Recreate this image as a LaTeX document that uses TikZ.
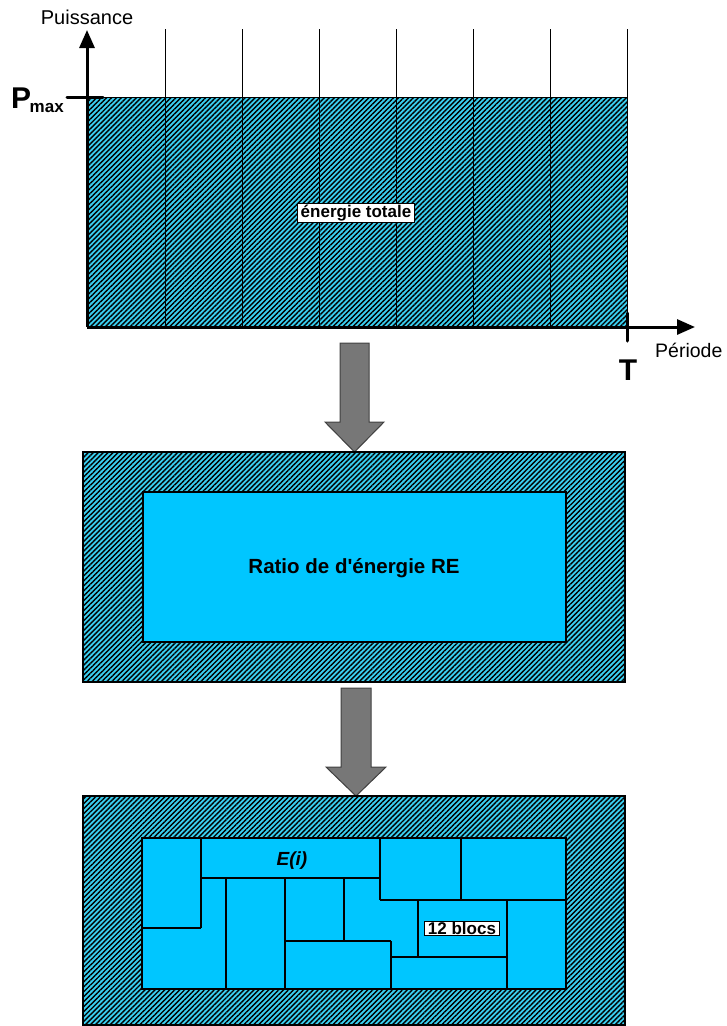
\documentclass[tikz,border=0pt]{standalone}
\usepackage{fontspec}
\setmainfont{Liberation Sans}
\newfontfamily\plainsans{Liberation Sans}[Ligatures=Common]
\usetikzlibrary{patterns.meta,arrows.meta}
\definecolor{hatchcyan}{HTML}{3ACFF0}
\definecolor{boxcyan}{HTML}{00C6FF}
\definecolor{arrowgray}{HTML}{777777}
\definecolor{arrowedge}{HTML}{404040}
\tikzset{
  hatch/.style={fill=hatchcyan,postaction={pattern={Lines[angle=45,distance=3.5pt,line width=1.4pt]},pattern color=black}},
  outerbox/.style={hatch,draw=black,line width=1.5pt},
  innerbox/.style={fill=boxcyan,draw=black,line width=1.5pt},
  blockline/.style={draw=black,line width=1.5pt},
  bigarrow/.style={fill=arrowgray,draw=arrowedge,line width=1pt,line join=miter},
  labelbox/.style={fill=white,draw=black,line width=1pt,inner xsep=3pt,inner ysep=1pt},
  axis/.style={line width=3pt},
  tick/.style={line width=3pt,line cap=round},
}
\begin{document}
\begin{tikzpicture}[x=1pt,y=-1pt]
\useasboundingbox (0,0) rectangle (726,1026);
% ---------- top chart ----------
\path[hatch] (87,97) rectangle (627,327);
\draw[line width=1pt] (87,97) -- (627,97);
\foreach \xx in {165,242,319,396,473,550,627}
  \draw[line width=1pt] (\xx,29) -- (\xx,327);
\coordinate (origin) at (87,327);
\coordinate (ytop) at (87,30);
\coordinate (xend) at (695,327);
\draw[axis,-{Triangle[length=18pt,width=15pt]}] (origin) -- (ytop);
\draw[axis,-{Triangle[length=18pt,width=15pt]}] (origin) -- (xend);
\coordinate (pmaxa) at (67,97);
\coordinate (pmaxb) at (103,97);
\draw[tick] (pmaxa) -- (pmaxb);
\coordinate (ta) at (627,313);
\coordinate (tb) at (627,341);
\draw[tick] (ta) -- (tb);
\node[anchor=base,inner sep=0pt,font=\fontsize{20}{23}\selectfont] (puis) at (87,24) {Puissance};
\node[anchor=base west,inner sep=0pt,font=\fontsize{19.5}{22}\selectfont] (periode) at (655,357) {Période};
\node[anchor=base,inner sep=0pt,font=\fontsize{30}{34}\selectfont\bfseries] (tlab) at (628,380) {T};
\node[anchor=base west,inner sep=0pt,font=\fontsize{30}{34}\selectfont\bfseries] (plab) at (11,108)
  {P\kern-1.5pt\raisebox{-4pt}{\fontsize{17}{20}\selectfont max}};
\node[labelbox,font=\fontsize{17}{20}\selectfont\bfseries] (etot) at (356,213) {énergie totale};
% ---------- arrow 1 ----------
\draw[bigarrow] (340,343) -- (369,343) -- (369,422) -- (384,422) -- (354.5,452) -- (325,422) -- (340,422) -- cycle;
% ---------- middle box ----------
\path[outerbox] (83,452) rectangle (625,682);
\path[innerbox] (143,492) rectangle (566,642);
\node[anchor=base,inner sep=0pt,font=\plainsans\fontsize{20.5}{24}\selectfont\bfseries] (ratio) at (354,573) {Ratio de d'énergie RE};
% ---------- arrow 2 ----------
\draw[bigarrow] (341,688) -- (371,688) -- (371,767) -- (386,767) -- (356,796) -- (326,767) -- (341,767) -- cycle;
% ---------- bottom box ----------
\path[outerbox] (83,796) rectangle (625,1025);
\path[innerbox] (142,838) rectangle (566,989);
\draw[blockline] (201,838) -- (201,928);
\draw[blockline] (142,928) -- (201,928);
\draw[blockline] (201,878) -- (380,878);
\draw[blockline] (380,838) -- (380,900);
\draw[blockline] (461,838) -- (461,900);
\draw[blockline] (380,900) -- (566,900);
\draw[blockline] (226,878) -- (226,989);
\draw[blockline] (285,878) -- (285,989);
\draw[blockline] (344,878) -- (344,941);
\draw[blockline] (285,941) -- (391,941);
\draw[blockline] (391,941) -- (391,989);
\draw[blockline] (418,900) -- (418,957);
\draw[blockline] (391,957) -- (507,957);
\draw[blockline] (507,900) -- (507,989);
\node[anchor=base,inner sep=0pt,font=\fontsize{19}{22}\selectfont\bfseries\itshape] (ei) at (292,865) {E(i)};
\node[labelbox,font=\fontsize{17}{20}\selectfont\bfseries] (blocs) at (462,928.5) {12 blocs};
\end{tikzpicture}
\end{document}
